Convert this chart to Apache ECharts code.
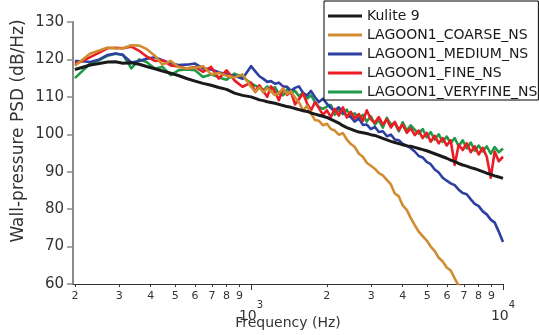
<!DOCTYPE html>
<html><head><meta charset="utf-8">
<script src="https://cdn.jsdelivr.net/npm/echarts@6/dist/echarts.min.js"></script>
<style>html,body{margin:0;padding:0;background:#fff}#c{width:539px;height:335px}</style>
</head><body><div id="c"></div>
<script>
const freq = [200,215,230,250,270,290,310,335,360,385,415,445,480,515,555,600,645,695,745,800,860,925,1000,
1040,1080,1120,1160,1200,1245,1290,1340,1390,1440,1495,1550,1610,1670,1730,1795,1860,1930,2000,2075,2150,2230,2315,2400,2490,2580,2680,2780,2880,2990,3100,3215,3335,3460,3590,3720,3860,4000,4150,4305,4465,4630,4800,4980,5165,5360,5560,5765,5980,6200,6430,6670,6920,7180,7450,7725,8010,8310,8620,8940,9270,9620,10000];

const kulite = [117.3,117.9,118.5,118.9,119.3,119.4,119.0,119.1,118.7,118.1,117.5,116.9,116.3,115.7,114.9,114.2,113.6,113.1,112.5,112.0,111.0,110.4,110.0,
109.6,109.2,109.0,108.7,108.5,108.3,108.0,107.7,107.4,107.2,106.9,106.6,106.3,106.1,105.7,105.4,105.1,104.8,104.5,104.0,
103.5,103.0,102.3,101.8,101.4,101.0,100.6,100.4,100.2,99.9,99.7,99.3,98.9,98.5,98.1,97.8,97.5,97.2,96.9,96.8,
96.5,96.2,95.9,95.6,95.2,94.8,94.4,94.0,93.6,93.1,92.7,92.2,91.8,91.5,91.1,90.8,90.4,90.0,89.6,89.3,88.9,88.6,88.2];

const coarse = [118.3,120.0,121.6,122.4,123.2,122.9,123.0,123.8,123.7,122.8,121.0,118.6,119.6,118.0,117.6,117.8,118.2,116.0,116.4,115.6,115.2,116.0,112.7,
111.3,112.5,111.2,112.3,111.5,110.5,111.0,112.2,110.8,111.5,109.8,108.5,106.4,107.6,105.6,103.8,103.6,102.4,102.8,101.4,
101.0,99.9,100.3,98.6,97.4,96.6,94.8,94.0,92.4,91.6,90.8,89.6,89.0,87.8,86.6,84.2,83.4,81.0,79.8,77.6,
75.7,74.0,72.8,71.6,70.0,68.8,67.0,66.0,64.4,63.6,61.5,59.5];

const medium = [119.6,119.5,119.3,120.0,121.2,121.6,121.2,119.2,119.6,120.2,120.6,119.8,119.0,118.5,118.6,118.9,117.6,117.3,116.6,116.0,115.6,114.8,118.2,
116.8,115.5,114.8,114.0,114.2,113.5,113.8,112.8,112.7,111.6,112.4,112.8,111.0,110.4,111.6,109.9,108.6,109.5,108.2,107.0,
106.4,107.2,105.8,105.0,104.6,103.4,104.2,102.5,102.6,101.4,102.0,100.6,100.8,99.5,99.9,98.6,98.4,97.4,97.0,96.3,
95.4,94.2,93.8,92.6,92.0,90.6,89.8,88.4,87.6,86.9,86.4,85.2,84.3,84.0,82.6,81.4,80.8,79.4,78.6,77.2,76.4,74.0,71.2];

const fine = [118.9,119.6,120.6,121.8,123.0,123.1,123.0,123.4,122.3,120.8,119.6,119.8,118.4,118.1,117.6,118.0,116.7,118.0,114.9,117.1,114.4,112.7,113.8,
111.3,113.1,111.5,110.0,112.8,111.4,109.1,112.2,110.5,111.4,108.0,109.4,110.9,108.2,106.4,108.6,107.0,105.2,106.4,104.6,
106.8,105.0,107.2,104.5,106.0,104.2,105.4,103.6,106.4,104.0,103.1,104.6,102.6,104.0,101.8,103.3,101.2,102.6,100.4,101.6,
99.8,101.0,99.0,100.4,98.0,99.6,97.6,99.0,97.0,98.4,91.8,97.2,95.8,97.6,95.2,96.8,94.6,96.4,94.0,88.4,95.4,92.8,94.0];

const veryfine = [115.0,117.0,118.9,119.8,121.0,121.5,121.3,117.6,120.0,119.3,117.6,118.0,115.8,117.1,117.3,117.1,115.3,116.0,115.2,114.6,116.2,115.3,113.6,
113.0,112.4,111.8,112.8,111.9,112.6,110.8,110.4,112.0,111.0,111.6,110.2,111.2,109.6,110.4,108.6,107.3,106.8,107.4,107.8,
105.2,106.6,105.4,106.6,104.8,105.6,104.0,105.2,103.4,104.8,102.6,103.8,101.8,104.4,102.6,103.0,100.8,103.2,101.0,102.4,
101.2,100.2,101.4,99.2,100.6,98.6,100.0,98.0,99.4,97.6,99.0,96.8,98.4,96.2,97.8,95.6,97.0,95.4,96.8,94.8,96.6,95.2,96.2];

const seriesNames = ['Kulite 9','LAGOON1_COARSE_NS','LAGOON1_MEDIUM_NS','LAGOON1_FINE_NS','LAGOON1_VERYFINE_NS'];
const seriesValues = [kulite, coarse, medium, fine, veryfine];
const seriesColors = ['#1a1a1a','#D08C30','#2D40A0','#EC1C24','#1E9A48'];
const seriesWidths = [3, 2.6, 2.6, 2.6, 2.6];
const seriesZ = [6, 5, 3, 4, 2];

const minorTicks = [200,300,400,500,600,700,800,900,2000,3000,4000,5000,6000,7000,8000,9000];
const decadeTicks = [1000, 10000];
const xMin = 196.6, xMax = 10000;
const yMin = 60, yMax = 130, yStep = 10;

const chart = echarts.init(document.getElementById('c'), null, {renderer:'canvas'});

function zip(vals){ const out=[]; for(let i=0;i<vals.length;i++){ out.push([freq[i], vals[i]]); } return out; }

const option = {
  animation: false,
  backgroundColor: '#fff',
  textStyle: { fontFamily: 'DejaVu Sans' },
  grid: { left: 73, right: 36, top: 22, bottom: 51, containLabel: false, outerBoundsMode: 'none' },
  legend: {
    orient: 'vertical', left: 324, top: 1,
    padding: [8, 1, 1, 4], itemGap: 5, itemWidth: 34, itemHeight: 3, icon: 'rect',
    borderColor: '#000', borderWidth: 1, backgroundColor: '#fff',
    textStyle: { fontSize: 14, color: '#1a1a1a', lineHeight: 14 },
    data: seriesNames
  },
  xAxis: [{
    type: 'log', logBase: 10, min: xMin, max: xMax, position: 'bottom',
    name: 'Frequency (Hz)', nameLocation: 'middle', nameGap: 32, nameMoveOverlap: false,
    nameTextStyle: { fontSize: 14, color: '#333' },
    axisLine: { show: true, onZero: false, lineStyle: { color: '#333', width: 1 } },
    axisTick: { show: true, length: 3, customValues: minorTicks, lineStyle: { color: '#333' } },
    axisLabel: { customValues: minorTicks, fontSize: 11, color: '#333', margin: 7,
      formatter: v => String(Math.round(v / Math.pow(10, Math.floor(Math.log10(v) + 1e-9)))) },
    splitLine: { show: false }, minorTick: { show: false }
  }, {
    type: 'log', logBase: 10, min: xMin, max: xMax, position: 'bottom',
    axisLine: { show: false, onZero: false },
    axisTick: { show: true, length: 6, customValues: decadeTicks, lineStyle: { color: '#333' } },
    axisLabel: { customValues: decadeTicks, color: '#333', margin: 25,
      formatter: v => '{d|10}{s|' + Math.round(Math.log10(v)) + '}',
      rich: {
        d: { fontSize: 14, lineHeight: 14, verticalAlign: 'bottom', color: '#333' },
        s: { fontSize: 10, lineHeight: 10, padding: [0, 0, 13, 0], verticalAlign: 'bottom', color: '#333' }
      } },
    splitLine: { show: false }
  }],
  yAxis: {
    type: 'value', min: yMin, max: yMax, interval: yStep,
    name: 'Wall-pressure PSD (dB/Hz)', nameLocation: 'middle', nameGap: 46, nameRotate: 90, nameMoveOverlap: false,
    nameTextStyle: { fontSize: 17, color: '#333', padding: [0, 0, 0, 44] },
    axisLine: { show: true, lineStyle: { color: '#8a8a8a', width: 2 } },
    axisTick: { show: true, length: 6, lineStyle: { color: '#8a8a8a', width: 1.5 } },
    axisLabel: { fontSize: 15, color: '#333', margin: 9 },
    splitLine: { show: false }
  },
  series: seriesNames.map((n, i) => ({
    name: n, type: 'line', xAxisIndex: 0, data: zip(seriesValues[i]),
    showSymbol: false, symbol: 'none', z: seriesZ[i], clip: true,
    lineStyle: { color: seriesColors[i], width: seriesWidths[i], join: 'round' },
    itemStyle: { color: seriesColors[i] }
  }))
};
chart.setOption(option);
</script></body></html>
